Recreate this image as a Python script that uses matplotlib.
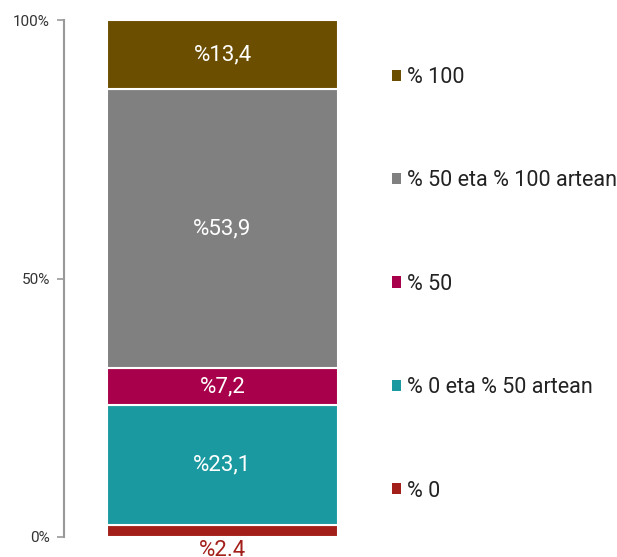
import matplotlib
matplotlib.use("Agg")
import matplotlib.pyplot as plt
from matplotlib.patches import Patch

plt.rcParams["font.family"] = ["Roboto", "DejaVu Sans"]

# bottom -> top
categories = ["% 0", "% 0 eta % 50 artean", "% 50", "% 50 eta % 100 artean", "% 100"]
values = [2.4, 23.1, 7.2, 53.9, 13.4]
value_labels = ["%2.4", "%23,1", "%7,2", "%53,9", "%13,4"]
colors = ["#A31F1A", "#1A9AA0", "#A8004A", "#808080", "#6B4E00"]
yticks = [0, 50, 100]
ytick_labels = ["0%", "50%", "100%"]

fig = plt.figure(figsize=(6.17, 5.57), dpi=100)
ax = fig.add_axes([64 / 617, 1 - 537 / 557, 300 / 617, 517 / 557])

bottom = 0
for cat, val, lab, col in zip(categories, values, value_labels, colors):
    ax.bar(0, val, width=1.0, bottom=bottom, color=col, edgecolor="white",
           linewidth=1.5, label=cat)
    if val < 5:
        ax.text(0, bottom - 0.6, lab, ha="center", va="top", color=col, fontsize=16)
    else:
        ax.text(0, bottom + val / 2, lab, ha="center", va="center", color="white",
                fontsize=16)
    bottom += val

ax.set_ylim(0, 100)
ax.set_xlim(-0.5 - 43 / 231, -0.5 + 257 / 231)
ax.set_yticks(yticks)
ax.set_yticklabels(ytick_labels, fontsize=11, color="#333333")
ax.set_xticks([])
for s in ["top", "right", "bottom"]:
    ax.spines[s].set_visible(False)
ax.spines["left"].set_color("#999999")
ax.spines["left"].set_linewidth(1.5)
ax.tick_params(axis="y", length=5, width=1.2, color="#999999", pad=5)

handles = [Patch(facecolor=c, edgecolor="none") for c in colors][::-1]
leg = fig.legend(handles, categories[::-1], loc="upper left",
                 bbox_to_anchor=(381 / 617, 1 - 56 / 557), frameon=False,
                 fontsize=15.5, handlelength=0.42, handleheight=0.42,
                 handletextpad=0.3, labelspacing=3.83, borderpad=0)
for t in leg.get_texts():
    t.set_color("#222222")

fig.savefig("out.png", dpi=100)
